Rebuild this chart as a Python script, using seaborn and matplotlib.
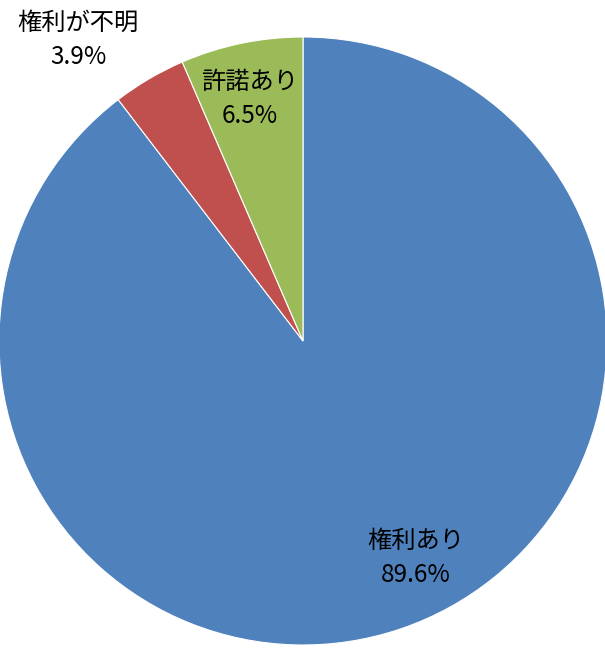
import matplotlib
matplotlib.use("Agg")
import matplotlib.pyplot as plt
import seaborn as sns

sns.set_theme(style="white")
plt.rcParams['font.family'] = ['Noto Sans CJK JP', 'DejaVu Sans']

# data
labels = ["権利あり", "権利が不明", "許諾あり"]
shares = [89.6, 3.9, 6.5]
colors = ["#4F81BD", "#C0504D", "#9BBB59"]
# label centres (x, y) in pie units, radius = 1
label_pos = [(0.37, -0.715), (-0.74, 0.99), (-0.175, 0.795)]

fig = plt.figure(figsize=(6.05, 6.48), dpi=100)
ax = fig.add_axes([-1 / 605, 3 / 648, 608 / 605, 608 / 648])

wedges, _ = ax.pie(shares, colors=colors, startangle=90, counterclock=False,
                   radius=1, wedgeprops=dict(edgecolor="white", linewidth=0.8))

for lab, val, (x, y) in zip(labels, shares, label_pos):
    ax.text(x, y, f"{lab}\n{val:.1f}%", ha="center", va="center",
            fontsize=17.5, linespacing=1.4, color="black")

ax.set_xlim(-1, 1)
ax.set_ylim(-1, 1)
ax.set_aspect("equal")
ax.axis("off")

fig.savefig("out.png", dpi=100)
